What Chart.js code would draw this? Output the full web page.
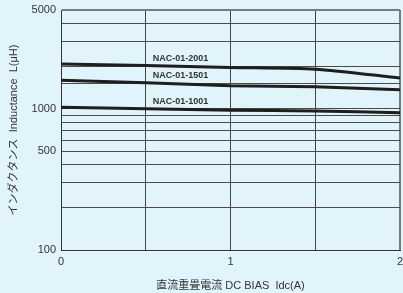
<!DOCTYPE html>
<html>
<head>
<meta charset="utf-8">
<script src="https://cdn.jsdelivr.net/npm/chart.js@4/dist/chart.umd.min.js"></script>
<style>
  html, body { margin: 0; padding: 0; background: #e1f3fb; overflow: hidden; }
  #wrap { width: 403px; height: 293px; }
</style>
</head>
<body>
<div id="wrap"><canvas id="chart" width="403" height="293"></canvas></div>
<script>
// Idc (A)
const currents = [0, 0.5, 1, 1.5, 2];
// inductance (uH)
const nac2001 = [2075, 2020, 1960, 1905, 1650];
const nac1501 = [1590, 1530, 1455, 1430, 1360];
const nac1001 = [1025, 1000, 975, 965, 935];
const seriesNames = ['NAC-01-2001', 'NAC-01-1501', 'NAC-01-1001'];
const yLabels = [100, 500, 1000, 5000];
const xLabels = [0, 1, 2];

const FONT = '"Liberation Sans", "Noto Sans CJK JP", sans-serif';
const BG = '#e1f3fb';

function toPoints(values) {
    return values.map((v, i) => ({ x: currents[i], y: v }));
}

// fond bleu clair
const bgPlugin = {
    id: 'bg',
    beforeDraw(chart) {
        const c = chart.ctx;
        c.save();
        c.fillStyle = BG;
        c.fillRect(0, 0, chart.width, chart.height);
        c.restore();
    }
};

// étiquettes des courbes, au-dessus du point x = 0.5
const curveLabels = {
    id: 'curveLabels',
    afterDatasetsDraw(chart) {
        const c = chart.ctx;
        const xs = chart.scales.x, ys = chart.scales.y;
        c.save();
        c.font = 'bold 9px ' + FONT;
        c.fillStyle = '#333';
        c.textBaseline = 'bottom';
        chart.data.datasets.forEach(ds => {
            const p = ds.data[1];
            c.fillText(ds.label, xs.getPixelForValue(p.x) + 7, ys.getPixelForValue(p.y) - 3);
        });
        c.restore();
    }
};

const lineStyle = { borderColor: '#1e1e1e', borderWidth: 3, pointRadius: 0, fill: false, tension: 0.25 };

new Chart(document.getElementById('chart').getContext('2d'), {
    type: 'line',
    data: {
        datasets: [
            Object.assign({ label: seriesNames[0], data: toPoints(nac2001) }, lineStyle),
            Object.assign({ label: seriesNames[1], data: toPoints(nac1501) }, lineStyle),
            Object.assign({ label: seriesNames[2], data: toPoints(nac1001) }, lineStyle),
        ],
    },
    options: {
        responsive: false,
        animation: false,
        layout: { padding: { top: 10, right: 3, left: 0, bottom: 0 } },
        plugins: { legend: { display: false }, tooltip: { enabled: false } },
        scales: {
            x: {
                type: 'linear',
                min: 0,
                max: 2,
                ticks: {
                    stepSize: 0.5,
                    padding: 5,
                    color: '#333',
                    font: { family: FONT, size: 11 },
                    callback: v => xLabels.includes(v) ? String(v) : '',
                },
                grid: {
                    drawTicks: false,
                    color: ctx => ctx.tick && ctx.tick.value === 2 ? '#7a7a7a' : '#444',
                    lineWidth: ctx => ctx.tick && ctx.tick.value === 2 ? 2 : 1,
                },
                border: { color: '#333', width: 1 },
                title: {
                    display: true,
                    text: '直流重畳電流 DC BIAS  Idc(A)',
                    color: '#333',
                    font: { family: FONT, size: 11 },
                    padding: { top: 1, bottom: 0 },
                },
                afterFit: s => { s.height = 43; s.paddingLeft = 0; s.paddingRight = 0; },
            },
            y: {
                type: 'logarithmic',
                min: 100,
                max: 5000,
                ticks: {
                    autoSkip: false,
                    padding: 5,
                    color: '#333',
                    font: { family: FONT, size: 11 },
                    callback: v => yLabels.includes(v) ? String(v) : '',
                },
                grid: {
                    drawTicks: false,
                    color: ctx => ctx.tick && ctx.tick.value === 5000 ? '#7a7a7a' : '#4a4a4a',
                    lineWidth: ctx => ctx.tick && ctx.tick.value === 5000 ? 2 : 1,
                },
                border: { color: '#333', width: 1 },
                title: {
                    display: true,
                    text: 'インダクタンス  Inductance  L(μH)',
                    color: '#333',
                    font: { family: FONT, size: 11 },
                    padding: { top: 7, bottom: 0 },
                },
                afterFit: s => { s.width = 61; s.paddingTop = 0; s.paddingBottom = 0; },
            },
        },
    },
    plugins: [bgPlugin, curveLabels],
});
</script>
</body>
</html>
